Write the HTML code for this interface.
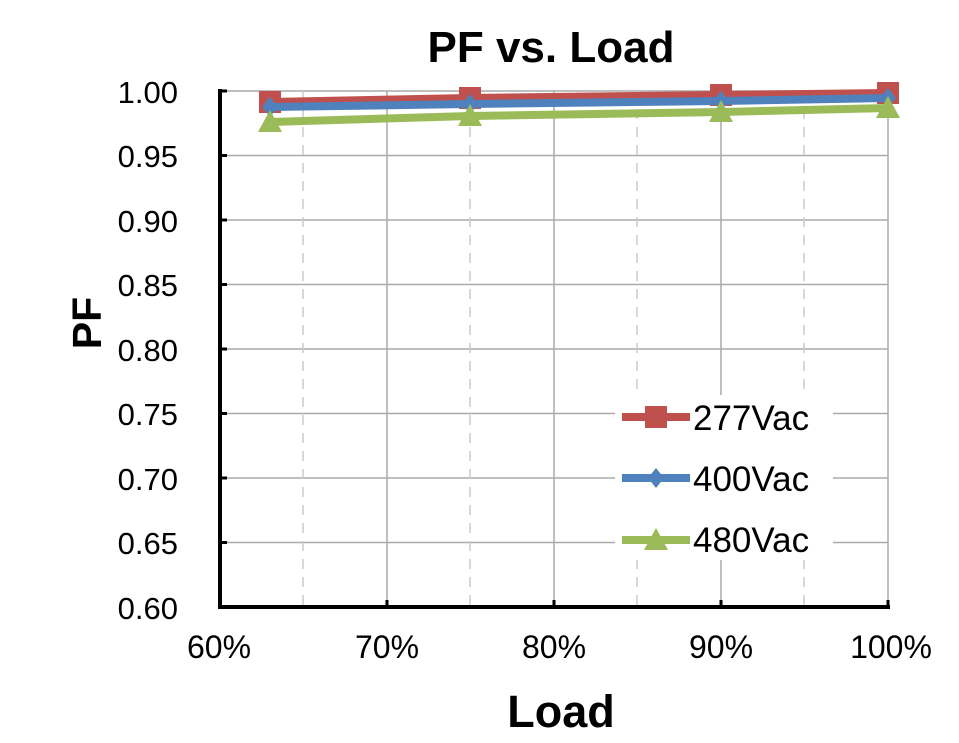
<!DOCTYPE html><html><head><style>body{margin:0;background:#fff}</style></head><body>
<svg width="959" height="738" xmlns="http://www.w3.org/2000/svg" font-family="Liberation Sans, Arial, sans-serif">
<rect width="959" height="738" fill="#fff"/>
<text x="551" y="62" font-size="44" font-weight="bold" text-anchor="middle">PF vs. Load</text>
<g stroke="#aaa" stroke-width="1.5">
<line x1="220" y1="91" x2="888" y2="91"/><line x1="220" y1="155.5" x2="888" y2="155.5"/><line x1="220" y1="220" x2="888" y2="220"/><line x1="220" y1="284.5" x2="888" y2="284.5"/><line x1="220" y1="349" x2="888" y2="349"/><line x1="220" y1="413.5" x2="888" y2="413.5"/><line x1="220" y1="478" x2="888" y2="478"/><line x1="220" y1="542.5" x2="888" y2="542.5"/>
<line x1="387" y1="91" x2="387" y2="607"/><line x1="554" y1="91" x2="554" y2="607"/><line x1="721" y1="91" x2="721" y2="607"/><line x1="888" y1="91" x2="888" y2="607"/>
</g>
<g stroke="#ccc" stroke-width="1.5" stroke-dasharray="10,8">
<line x1="303" y1="91" x2="303" y2="607"/><line x1="470" y1="91" x2="470" y2="607"/><line x1="637" y1="91" x2="637" y2="607"/><line x1="804" y1="91" x2="804" y2="607"/>
</g>
<rect x="615" y="395" width="218" height="165" fill="#fff"/>
<g stroke="#000" stroke-width="4"><line x1="220" y1="89" x2="220" y2="609"/><line x1="218" y1="607" x2="890" y2="607"/>
<g stroke-width="3"><line x1="220" y1="91" x2="227" y2="91"/><line x1="220" y1="155.5" x2="227" y2="155.5"/><line x1="220" y1="220" x2="227" y2="220"/><line x1="220" y1="284.5" x2="227" y2="284.5"/><line x1="220" y1="349" x2="227" y2="349"/><line x1="220" y1="413.5" x2="227" y2="413.5"/><line x1="220" y1="478" x2="227" y2="478"/><line x1="220" y1="542.5" x2="227" y2="542.5"/>
<line x1="387" y1="600" x2="387" y2="607"/><line x1="554" y1="600" x2="554" y2="607"/><line x1="721" y1="600" x2="721" y2="607"/><line x1="888" y1="600" x2="888" y2="607"/></g></g>
<g font-size="31" text-anchor="end"><text x="178" y="103">1.00</text><text x="178" y="167">0.95</text><text x="178" y="232">0.90</text><text x="178" y="296">0.85</text><text x="178" y="361">0.80</text><text x="178" y="425">0.75</text><text x="178" y="490">0.70</text><text x="178" y="554">0.65</text><text x="178" y="619">0.60</text></g>
<g font-size="32" text-anchor="middle"><text x="219" y="658">60%</text><text x="387" y="658">70%</text><text x="554" y="658">80%</text><text x="721" y="658">90%</text><text x="891" y="658">100%</text></g>
<text x="561" y="727" font-size="45" font-weight="bold" text-anchor="middle">Load</text>
<text transform="translate(101,323) rotate(-90)" font-size="41" font-weight="bold" text-anchor="middle">PF</text>
<polyline points="270,102 470,98 721,95 888,93" fill="none" stroke="#c0504d" stroke-width="8"/>
<g fill="#c0504d"><rect x="259" y="91" width="22" height="22"/><rect x="459" y="87" width="22" height="22"/><rect x="710" y="84" width="22" height="22"/><rect x="877" y="82" width="22" height="22"/></g>
<polyline points="270,107 470,104 721,101 888,98" fill="none" stroke="#4f81bd" stroke-width="8"/>
<g fill="#4f81bd"><path d="M270,97l8,10-8,10-8-10z"/><path d="M470,94l8,10-8,10-8-10z"/><path d="M721,91l8,10-8,10-8-10z"/><path d="M888,88l8,10-8,10-8-10z"/></g>
<polyline points="270,122 470,116 721,112 888,108" fill="none" stroke="#9bbb59" stroke-width="8"/>
<g fill="#9bbb59"><path d="M270,110l12,22h-24z"/><path d="M470,104l12,22h-24z"/><path d="M721,100l12,22h-24z"/><path d="M888,96l12,22h-24z"/></g>
<line x1="622" y1="417" x2="690" y2="417" stroke="#c0504d" stroke-width="8"/><rect x="645" y="406" width="22" height="22" fill="#c0504d"/>
<line x1="622" y1="478" x2="690" y2="478" stroke="#4f81bd" stroke-width="8"/><path d="M656,468l8,10-8,10-8-10z" fill="#4f81bd"/>
<line x1="622" y1="540" x2="690" y2="540" stroke="#9bbb59" stroke-width="8"/><path d="M656,528l12,22h-24z" fill="#9bbb59"/>
<g font-size="35"><text x="693" y="430">277Vac</text><text x="693" y="491">400Vac</text><text x="693" y="552">480Vac</text></g>
</svg></body></html>
